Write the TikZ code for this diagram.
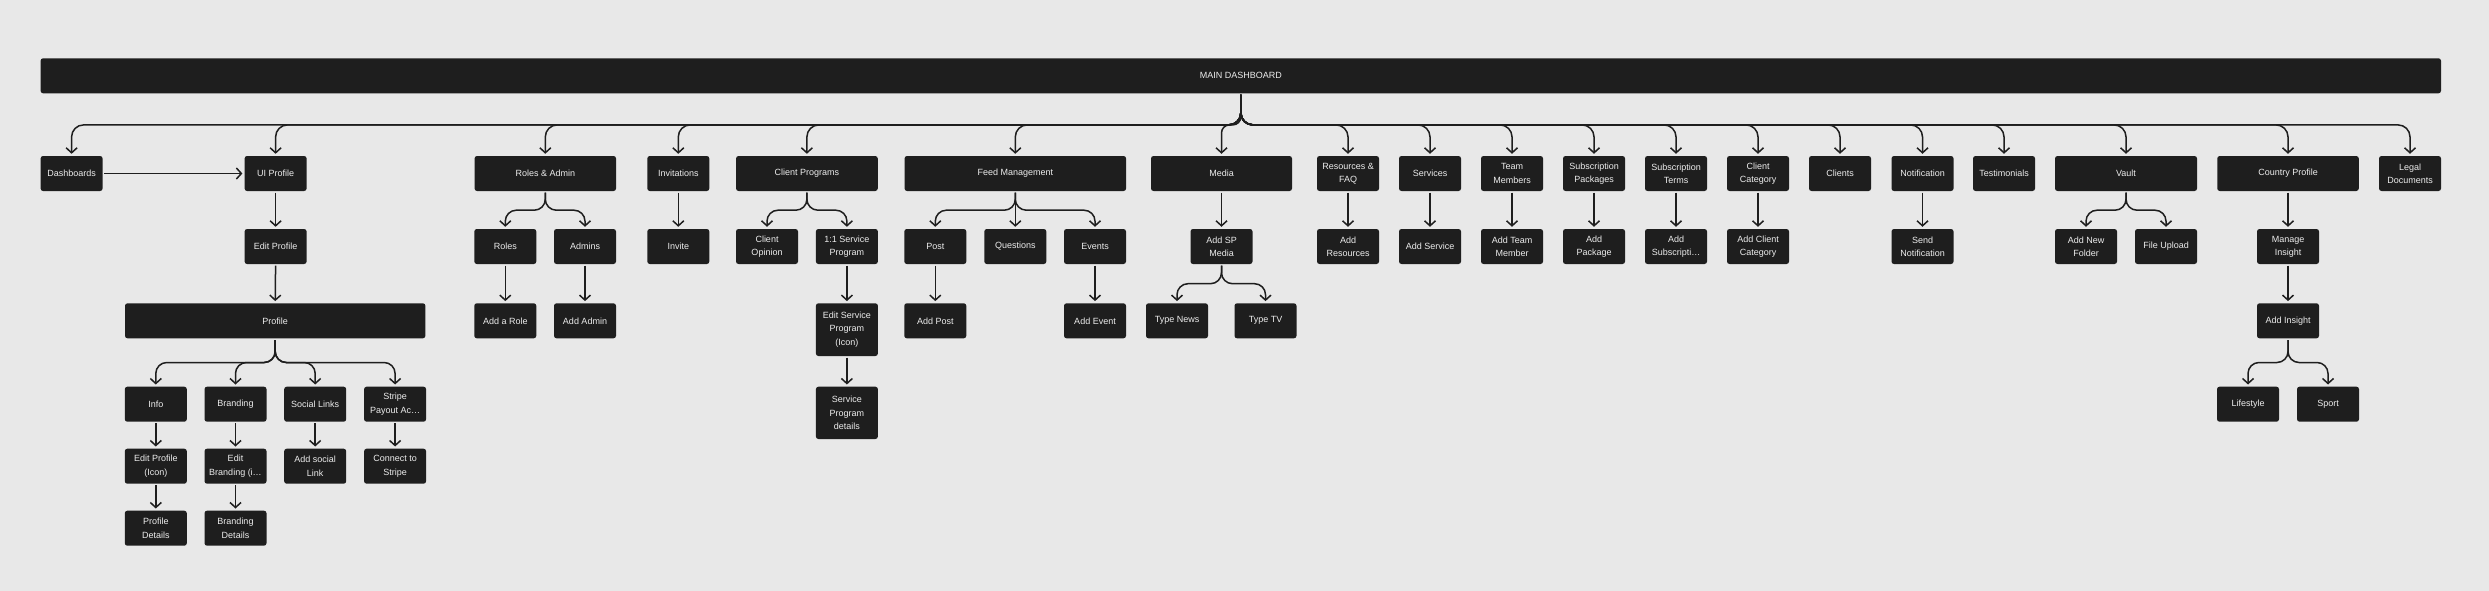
\documentclass[tikz,border=0pt]{standalone}
\usepackage{fontspec}
\setmainfont{Liberation Sans}
\usetikzlibrary{arrows.meta}
\definecolor{fondo}{HTML}{E8E8E8}
\definecolor{card}{HTML}{1E1E1E}
\definecolor{ink}{HTML}{EDEDED}
\tikzset{
  screen/.style = {rectangle, rounded corners=2.5pt, fill=card, text=ink, font=\fontsize{9}{13.3}\selectfont, align=center, minimum width=62pt, minimum height=35pt, inner sep=0},
  link/.style   = {line width=1.5pt, draw=card, -{Straight Barb[length=5pt,width=11pt]}, shorten >=2pt, shorten <=1.5pt, rounded corners=11pt},
  bus/.style    = {link, rounded corners=12pt}
}
\begin{document}
\begin{tikzpicture}[x=1pt, y=-1pt]
  \useasboundingbox[fill=fondo] (0,0) rectangle (2489,591);
  \node[screen, minimum width=2400.4pt] (main) at (1240.8,75.8) {MAIN DASHBOARD};

  % first level
  \node[screen] (dash)    at (71.6,173.5)  {Dashboards};
  \node[screen] (uip)     at (275.6,173.5) {UI Profile};
  \node[screen, minimum width=141.5pt] (roles) at (545.3,173.5) {Roles \& Admin};
  \node[screen] (inv)     at (678.3,173.5) {Invitations};
  \node[screen, minimum width=141.7pt] (cprog) at (806.9,173.5) {Client Programs};
  \node[screen, minimum width=221.5pt] (feed)  at (1015.3,173.5) {Feed Management};
  \node[screen, minimum width=141pt]   (media) at (1221.5,173.5) {Media};
  \node[screen] (res)     at (1348,173.5)   {Resources \&\\FAQ};
  \node[screen] (serv)    at (1430,173.5)   {Services};
  \node[screen] (team)    at (1512,173.5)   {Team\\Members};
  \node[screen] (spack)   at (1594,173.5)   {Subscription\\Packages};
  \node[screen] (sterm)   at (1676,173.5)   {Subscription\\Terms};
  \node[screen] (ccat)    at (1758,173.5)   {Client\\Category};
  \node[screen] (clients) at (1840,173.5)   {Clients};
  \node[screen] (notif)   at (1922.5,173.5) {Notification};
  \node[screen] (testi)   at (2004,173.5)   {Testimonials};
  \node[screen, minimum width=142pt]   (vault)   at (2126,173.5) {Vault};
  \node[screen, minimum width=141.5pt] (country) at (2288,173.5) {Country Profile};
  \node[screen] (legal)   at (2410,173.5)   {Legal\\Documents};

  % second level
  \node[screen] (editp)   at (275.6,246.5)  {Edit Profile};
  \node[screen] (rl)      at (505.3,246.5)  {Roles};
  \node[screen] (adm)     at (585,246.5)    {Admins};
  \node[screen] (invite)  at (678.3,246.5)  {Invite};
  \node[screen] (copin)   at (767,246.5)    {Client\\Opinion};
  \node[screen] (svc)     at (846.9,246.5)  {1:1 Service\\Program};
  \node[screen] (post)    at (935.3,246.5)  {Post};
  \node[screen] (quest)   at (1015.3,246.5) {Questions};
  \node[screen] (events)  at (1095,246.5)   {Events};
  \node[screen] (spmedia) at (1221.5,246.5) {Add SP\\Media};
  \node[screen] (addres)  at (1348,246.5)   {Add\\Resources};
  \node[screen] (addserv) at (1430,246.5)   {Add Service};
  \node[screen] (addteam) at (1512,246.5)   {Add Team\\Member};
  \node[screen] (addpack) at (1594,246.5)   {Add\\Package};
  \node[screen] (addsub)  at (1676,246.5)   {Add\\Subscripti…};
  \node[screen] (addcat)  at (1758,246.5)   {Add Client\\Category};
  \node[screen] (send)    at (1922.5,246.5) {Send\\Notification};
  \node[screen] (folder)  at (2086,246.5)   {Add New\\Folder};
  \node[screen] (upload)  at (2166,246.5)   {File Upload};
  \node[screen] (manage)  at (2288,246.5)   {Manage\\Insight};

  % third level
  \node[screen, minimum width=300.4pt] (profile) at (275.2,320.8) {Profile};
  \node[screen] (addrole) at (505.3,320.8)  {Add a Role};
  \node[screen] (addadm)  at (585,320.8)    {Add Admin};
  \node[screen, minimum height=52.7pt] (editsvc) at (846.9,329.65) {Edit Service\\Program\\(Icon)};
  \node[screen] (addpost) at (935.3,320.8)  {Add Post};
  \node[screen] (addev)   at (1095,320.8)   {Add Event};
  \node[screen] (news)    at (1177,320.8)   {Type News};
  \node[screen] (tv)      at (1265.5,320.8) {Type TV};
  \node[screen] (insight) at (2288,320.8)   {Add Insight};

  % deeper levels
  \node[screen] (info)    at (155.8,404.2)  {Info};
  \node[screen] (brand)   at (235.5,404.2)  {Branding};
  \node[screen] (social)  at (315.2,404.2)  {Social Links};
  \node[screen] (stripe)  at (395.1,404.2)  {Stripe\\Payout Ac…};
  \node[screen, minimum height=52.3pt] (details) at (846.9,412.85) {Service\\Program\\details};
  \node[screen] (life)    at (2248,404.2)   {Lifestyle};
  \node[screen] (sport)   at (2328,404.2)   {Sport};
  \node[screen] (editinfo) at (155.8,466.2) {Edit Profile\\(Icon)};
  \node[screen] (editbr)  at (235.5,466.2)  {Edit\\Branding (i…};
  \node[screen] (addsoc)  at (315.2,466.2)  {Add social\\Link};
  \node[screen] (connect) at (395.1,466.2)  {Connect to\\Stripe};
  \node[screen] (pdet)    at (155.8,528.2)  {Profile\\Details};
  \node[screen] (bdet)    at (235.5,528.2)  {Branding\\Details};

  % bus from the main dashboard
  \foreach \n in {dash,uip,roles,inv,cprog,feed,res,serv,team,spack,sterm,ccat,clients,notif,testi,vault,country,legal}
    \draw[bus] (main.south) -- ++(0,31.4) -| (\n.north);
  \draw[bus, rounded corners=8pt] (main.south) -- ++(0,31.4) -| (media.north);
  \draw[link] (dash.east) -- (uip.west);

  % branches
  \foreach \p/\c/\d in {roles/rl/19, roles/adm/19, cprog/copin/19, cprog/svc/19, feed/post/19, feed/events/19, spmedia/news/19.5, spmedia/tv/19.5, vault/folder/19, vault/upload/19, profile/info/24, profile/brand/24, profile/social/24, profile/stripe/24, insight/life/24, insight/sport/24}
    \draw[link] (\p.south) -- ++(0,\d) -| (\c.north);

  % straight links
  \foreach \p/\c in {uip/editp, editp/profile, rl/addrole, adm/addadm, inv/invite, svc/editsvc, editsvc/details, feed/quest, post/addpost, events/addev, media/spmedia, res/addres, serv/addserv, team/addteam, spack/addpack, sterm/addsub, ccat/addcat, notif/send, country/manage, manage/insight, info/editinfo, editinfo/pdet, brand/editbr, editbr/bdet, social/addsoc, stripe/connect}
    \draw[link] (\p.south) -- (\c.north);
\end{tikzpicture}
\end{document}
